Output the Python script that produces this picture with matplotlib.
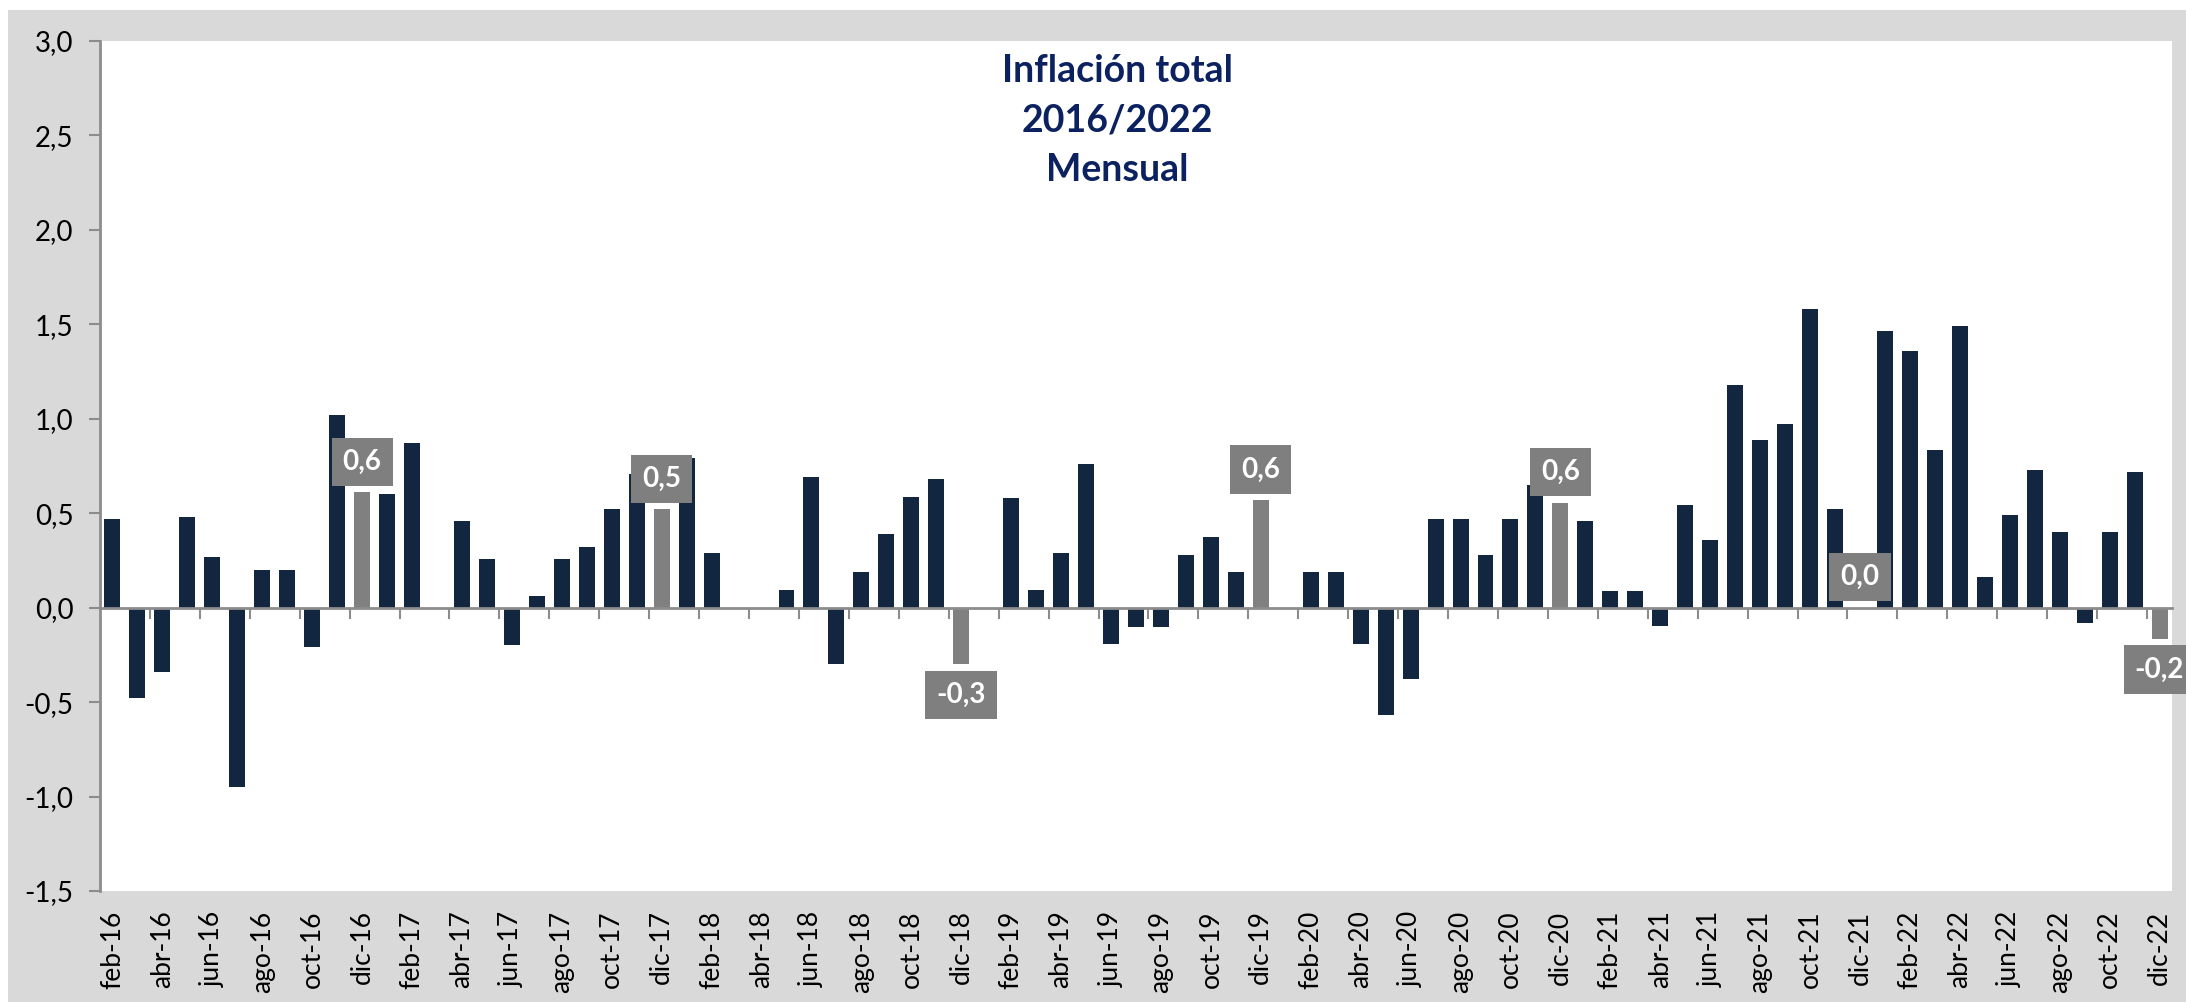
import matplotlib
matplotlib.use("Agg")
import matplotlib.pyplot as plt
from matplotlib.patches import Rectangle
from matplotlib.ticker import FuncFormatter, FixedLocator

plt.rcParams["font.family"] = ["Lato", "DejaVu Sans"]
plt.rcParams["axes.unicode_minus"] = False

# Datos: inflación mensual (%), feb-16 a dic-22
meses = ["ene", "feb", "mar", "abr", "may", "jun",
         "jul", "ago", "sep", "oct", "nov", "dic"]
anios = ["16", "17", "18", "19", "20", "21", "22"]

valores = [
    0.47, -0.48, -0.34, 0.48, 0.27, -0.95, 0.20, 0.20, -0.21, 1.02, 0.61,        # 2016 (feb-dic)
    0.60, 0.87, 0.00, 0.46, 0.26, -0.20, 0.06, 0.26, 0.32, 0.52, 0.71, 0.52,     # 2017
    0.79, 0.29, 0.00, 0.00, 0.095, 0.69, -0.30, 0.19, 0.39, 0.585, 0.68, -0.30,  # 2018
    0.00, 0.58, 0.095, 0.29, 0.76, -0.19, -0.10, -0.10, 0.28, 0.375, 0.19, 0.57, # 2019
    0.00, 0.19, 0.19, -0.19, -0.57, -0.38, 0.47, 0.47, 0.28, 0.47, 0.65, 0.555,  # 2020
    0.46, 0.09, 0.09, -0.095, 0.545, 0.36, 1.18, 0.89, 0.975, 1.58, 0.52, 0.00,  # 2021
    1.465, 1.36, 0.835, 1.49, 0.16, 0.49, 0.73, 0.40, -0.08, 0.40, 0.72, -0.166, # 2022
]

etiquetas = [f"{m}-{a}" for a in anios for m in meses][1:]

color_barra = "#12263f"
color_dic = "#808080"
color_titulo = "#0b2160"
color_eje = "#8c8c8c"

x = list(range(len(valores)))
colores = [color_dic if e.startswith("dic") else color_barra for e in etiquetas]

fig = plt.figure(figsize=(21.86, 10.02), dpi=100, facecolor="white")
fondo = Rectangle((8 / 2186, 0), 1, 1 - 10 / 1002, transform=fig.transFigure,
                  facecolor="#d9d9d9", edgecolor="none", zorder=-10)
fig.patches.append(fondo)

ax = fig.add_axes([100 / 2186, 111 / 1002, 2072 / 2186, 850 / 1002])
ax.set_facecolor("white")

ax.bar(x, valores, width=0.64, color=colores, zorder=2)

ax.set_xlim(-0.5, len(valores) - 0.5)
ax.set_ylim(-1.5, 3.0)
ax.set_yticks([-1.5, -1.0, -0.5, 0.0, 0.5, 1.0, 1.5, 2.0, 2.5, 3.0])
ax.yaxis.set_major_formatter(FuncFormatter(lambda v, p: f"{v:.1f}".replace(".", ",")))
ax.tick_params(axis="y", length=8, width=1.5, color=color_eje, labelsize=20, pad=11)

for s in ["top", "right"]:
    ax.spines[s].set_visible(False)
ax.spines["left"].set_color(color_eje)
ax.spines["left"].set_linewidth(2)

# eje horizontal en cero con marcas cada dos meses
ax.spines["bottom"].set_position(("data", 0))
ax.spines["bottom"].set_color(color_eje)
ax.spines["bottom"].set_linewidth(2)
ax.spines["bottom"].set_zorder(3)
ax.xaxis.set_major_locator(FixedLocator([i + 1.5 for i in x[::2] if i + 1.5 < len(valores)]))
ax.tick_params(axis="x", length=8, width=1.5, color=color_eje, labelbottom=False)

# etiquetas de meses en el borde inferior
sec = ax.secondary_xaxis("bottom")
sec.set_xticks(x[::2])
sec.set_xticklabels(etiquetas[::2], rotation=90, fontsize=19)
sec.tick_params(length=0, pad=14)
sec.spines["bottom"].set_visible(False)

# etiquetas de diciembre
for i, e in enumerate(etiquetas):
    if e.startswith("dic"):
        v = valores[i]
        texto = f"{v:.1f}".replace(".", ",")
        dy = 22 if v >= 0 else -22
        ax.annotate(texto, (i, v), xytext=(0, dy), textcoords="offset points",
                    ha="center", va="center", color="white", fontsize=20,
                    fontweight="bold", annotation_clip=False, zorder=5,
                    bbox=dict(boxstyle="square,pad=0.4", facecolor="#7f7f7f",
                              edgecolor="none"))

ax.text(0.491, 0.985, "Inflación total\n2016/2022\nMensual", transform=ax.transAxes,
        ha="center", va="top", fontsize=27, fontweight="bold", color=color_titulo,
        linespacing=1.55)

fig.savefig("out.png", dpi=100, facecolor=fig.get_facecolor())
